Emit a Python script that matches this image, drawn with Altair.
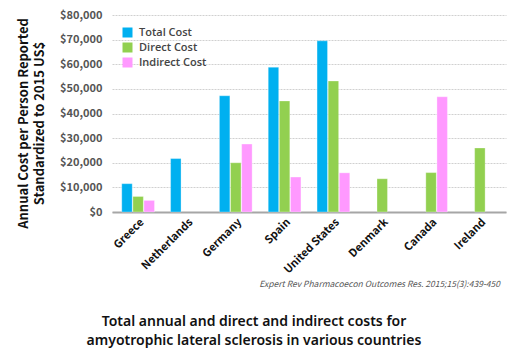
import altair as alt
import pandas as pd

countries = ["Greece", "Netherlands", "Germany", "Spain", "United States", "Denmark", "Canada", "Ireland"]
series = ["Total Cost", "Direct Cost", "Indirect Cost"]
total_cost = [11500, 21700, 47200, 58800, 69500, None, None, None]
direct_cost = [6300, None, 20000, 45100, 53200, 13500, 16000, 26000]
indirect_cost = [4700, None, 27600, 14200, 15900, None, 46800, None]
colors = ["#00B0F0", "#92D050", "#FF99FF"]
y_ticks = [0, 10000, 20000, 30000, 40000, 50000, 60000, 70000, 80000]
citation = "Expert Rev Pharmacoecon Outcomes Res. 2015;15(3):439-450"
title_lines = ["Total annual and direct and indirect costs for",
               "amyotrophic lateral sclerosis in various countries"]
y_title = ["Annual Cost per Person Reported", "Standardized to 2015 US$"]

rows = []
for s, vals in zip(series, [total_cost, direct_cost, indirect_cost]):
    for c, v in zip(countries, vals):
        if v is not None:
            rows.append({"country": c, "series": s, "cost": v})
df = pd.DataFrame(rows)

FONT = "Noto Sans CJK KR"

bars = alt.Chart(df).mark_bar(stroke="white", strokeWidth=0.5, strokeOpacity=0.6).encode(
    x=alt.X("country:N", sort=countries,
            scale=alt.Scale(paddingInner=0.33, paddingOuter=0.2),
            axis=alt.Axis(title=None, labelAngle=-45, labelFont=FONT, labelFontWeight="bold",
                          labelFontSize=11, labelColor="#111111", ticks=False,
                          domainColor="#A6A6A6", domainWidth=2, labelPadding=4)),
    xOffset=alt.XOffset("series:N", sort=series, scale=alt.Scale(paddingInner=0.06)),
    y=alt.Y("cost:Q", scale=alt.Scale(domain=[0, 80000], nice=False),
            axis=alt.Axis(values=y_ticks, format="$,.0f", labelFont=FONT, labelFontWeight="bold",
                          labelFontSize=11, labelColor="#555555", ticks=False, domain=False,
                          labelPadding=10, grid=True, gridColor="#D0D0D0", gridDash=[2, 1],
                          title=y_title, titleFont=FONT, titleFontSize=13, titleFontWeight="bold",
                          titleColor="#111111", titleAngle=270, titleX=-89, titleY=108,
                          titleAlign="center", titleBaseline="middle", titleLineHeight=16)),
    color=alt.Color("series:N", sort=series,
                    scale=alt.Scale(domain=series, range=colors),
                    legend=alt.Legend(title=None, orient="none", legendX=10, legendY=12,
                                      symbolType="square", symbolSize=100, symbolStrokeWidth=0,
                                      labelFont="Open Sans", labelFontSize=11, labelFontWeight=600,
                                      labelColor="#444444", rowPadding=3, labelOffset=6,
                                      labelLimit=200)),
)

cite = alt.Chart(pd.DataFrame({"t": [citation]})).mark_text(
    align="right", baseline="alphabetic", font=FONT, fontStyle="italic", fontSize=8.5,
    color="#555555"
).encode(text="t:N", x=alt.value(388), y=alt.value(272))

title = alt.Chart(pd.DataFrame({"t": [title_lines]})).mark_text(
    align="center", baseline="alphabetic", font="Noto Sans", fontSize=14, fontWeight=600,
    color="#111111", lineHeight=19
).encode(text="t", x=alt.value(142), y=alt.value(311))

chart = alt.layer(bars, cite, title).properties(
    width=394, height=197,
    padding={"left": 112, "top": 15, "right": 2, "bottom": 138},
    autosize=alt.AutoSizeParams(type="none"),
).configure_view(stroke=None)

chart.save("out.html", embed_options={"renderer": "svg", "actions": False})
